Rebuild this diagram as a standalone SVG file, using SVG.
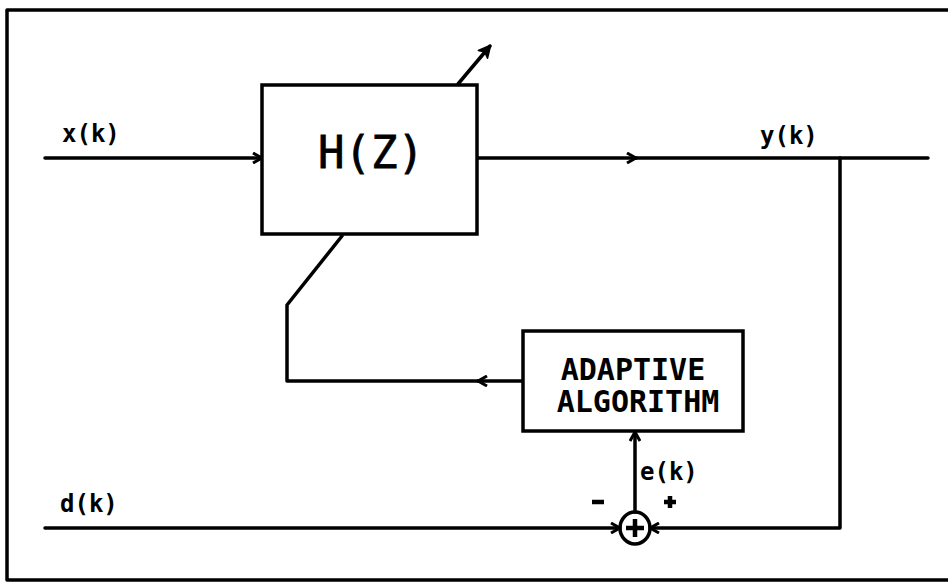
<svg xmlns="http://www.w3.org/2000/svg" width="948" height="583" viewBox="0 0 948 583">
<style>
.ln{stroke:#000;stroke-width:3.5;fill:none;stroke-linecap:round;stroke-linejoin:round}
.box{stroke:#000;stroke-width:3.5;fill:#fff}
.sg{stroke:#000;stroke-width:4.5;fill:none;stroke-linecap:butt}
.lbl{font-family:"DejaVu Sans Mono","Liberation Mono",monospace;font-weight:bold;font-size:24px;fill:#000}
.big{font-family:"DejaVu Sans Mono","Liberation Mono",monospace;font-size:44px;fill:#000;stroke:#000;stroke-width:0.8}
.blk{font-family:"DejaVu Sans Mono","Liberation Mono",monospace;font-weight:bold;font-size:30px;fill:#000}
</style>
<defs>
<marker id="chev" viewBox="0 0 12 12" refX="11" refY="6" markerWidth="12" markerHeight="12" markerUnits="userSpaceOnUse" orient="auto">
<path d="M2,1 L11,6 L2,11" fill="none" stroke="#000" stroke-width="3" stroke-linejoin="round"/>
</marker>
<marker id="head" viewBox="0 0 14 14" refX="12" refY="7" markerWidth="14" markerHeight="14" markerUnits="userSpaceOnUse" orient="auto">
<path d="M1,1 L13,7 L1,13 L4,7 Z" fill="#000" stroke="#000" stroke-width="1.5" stroke-linejoin="round"/>
</marker>
</defs>
<path class="ln" d="M948,10 L7,10 L7,580 L948,580"/>
<g id="connectors">
<line class="ln" x1="45" y1="158" x2="262" y2="158" marker-end="url(#chev)"/>
<line class="ln" x1="477" y1="158" x2="636" y2="158" marker-end="url(#chev)"/>
<line class="ln" x1="636" y1="158" x2="928" y2="158"/>
<path class="ln" d="M840,158 L840,528 L650,528" marker-end="url(#chev)"/>
<line class="ln" x1="45" y1="528" x2="620" y2="528" marker-end="url(#chev)"/>
<line class="ln" x1="635" y1="512" x2="635" y2="432" marker-end="url(#chev)"/>
<line class="ln" x1="523" y1="381" x2="478" y2="381" marker-end="url(#chev)"/>
<path class="ln" d="M478,381 L287,381 L287,305 L342,236"/>
<line class="ln" x1="458" y1="84" x2="490" y2="46" marker-end="url(#head)"/>
</g>
<g id="hz">
<rect class="box" x="262" y="85" width="215" height="149"/>
<text class="big" x="371" y="168" text-anchor="middle">H(Z)</text>
</g>
<g id="adaptive">
<rect class="box" x="523" y="331" width="220" height="100"/>
<text class="blk" x="633" y="380" text-anchor="middle">ADAPTIVE</text>
<text class="blk" x="638" y="412" text-anchor="middle">ALGORITHM</text>
</g>
<g id="sum">
<ellipse class="ln" cx="635" cy="528" rx="15" ry="16" fill="#fff"/>
<path class="sg" d="M635,519 L635,537 M626,528 L644,528"/>
<path class="sg" d="M592,502 L604,502 M664,502 L676,502 M670,496 L670,508"/>
</g>
<g id="labels">
<text class="lbl" x="62" y="142">x(k)</text>
<text class="lbl" x="760" y="144">y(k)</text>
<text class="lbl" x="60" y="512">d(k)</text>
<text class="lbl" x="640" y="480">e(k)</text>
</g>
</svg>
